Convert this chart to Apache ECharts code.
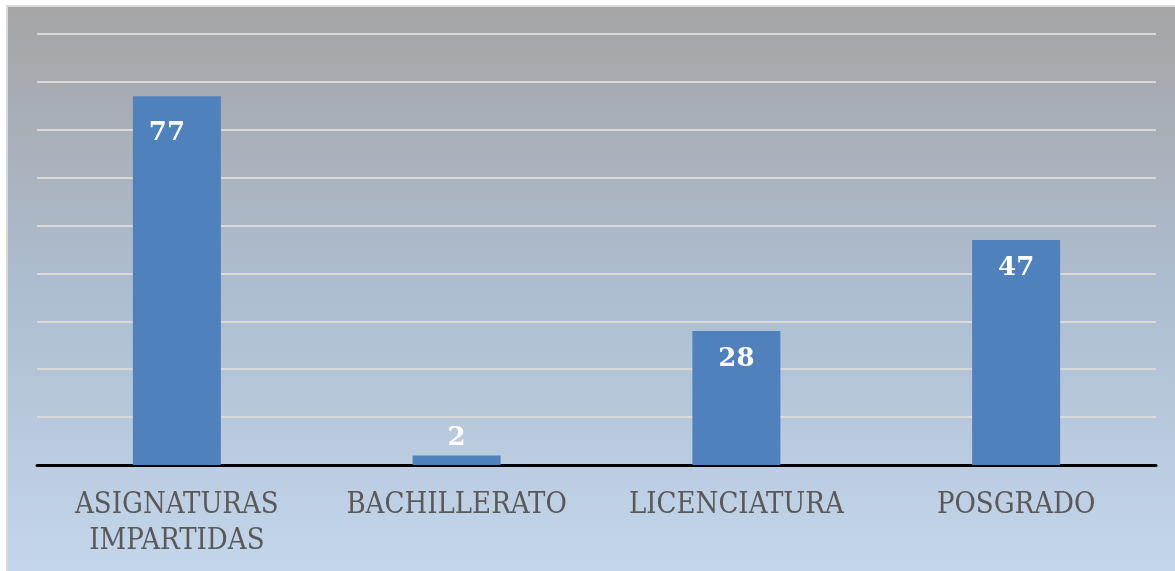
<!DOCTYPE html>
<html>
<head>
<meta charset="utf-8">
<script src="https://cdn.jsdelivr.net/npm/echarts@6/dist/echarts.min.js"></script>
<style>
    html, body { margin: 0; padding: 0; background: #fff; }
    #chartBox {
        position: absolute; left: 6px; top: 5px;
        width: 1167px; height: 564px;
        border-left: 2px solid #d9d9d9;
        border-top: 2px solid #d9d9d9;
    }
</style>
</head>
<body>
<div id="chartBox"></div>
<script>
var categories = ['ASIGNATURAS\nIMPARTIDAS', 'BACHILLERATO', 'LICENCIATURA', 'POSGRADO'];
var values = [77, 2, 28, 47];
var yMax = 90;
var yStep = 10;

function show_bar() {
    var dom = document.getElementById('chartBox');
    var myChart = echarts.init(dom);

    var pData = [];
    for (var i = 0; i < values.length; i++) {
        // bar too short to hold its label: put it above
        var inside = values[i] > 5;
        var lbl = inside ? {position: 'insideTop', distance: 15} : {position: 'top', distance: 4};
        if (i === 0) {
            lbl.offset = [-10, 9];   // first label was nudged by hand in the original
        }
        pData.push({value: values[i], label: lbl});
    }

    var option = {
        backgroundColor: {
            type: 'linear', x: 0, y: 0, x2: 0, y2: 1,
            colorStops: [
                {offset: 0, color: '#a5a5a5'},
                {offset: 0.5, color: '#adbdd0'},
                {offset: 1, color: '#c4d6ea'}
            ]
        },
        animation: false,
        grid: {
            left: 29,
            right: 19,
            top: 27,
            bottom: 106
        },
        xAxis: {
            type: 'category',
            data: categories,
            axisLine: {lineStyle: {color: '#000', width: 3}},
            axisTick: {show: false},
            axisLabel: {
                color: '#595959',
                fontFamily: 'DejaVu Serif Condensed',
                fontSize: 29,
                lineHeight: 36,
                margin: 22,
                interval: 0
            }
        },
        yAxis: {
            type: 'value',
            min: 0,
            max: yMax,
            interval: yStep,
            axisLine: {show: false},
            axisTick: {show: false},
            axisLabel: {show: false},
            splitLine: {lineStyle: {color: '#d9d9d9', width: 2}}
        },
        series: [{
            type: 'bar',
            data: pData,
            barWidth: 88,
            itemStyle: {color: '#4f81bd'},
            label: {
                show: true,
                color: '#fff',
                fontFamily: 'DejaVu Serif',
                fontWeight: 'bold',
                fontSize: 26
            }
        }]
    };

    myChart.setOption(option);
}

show_bar();
</script>
</body>
</html>
